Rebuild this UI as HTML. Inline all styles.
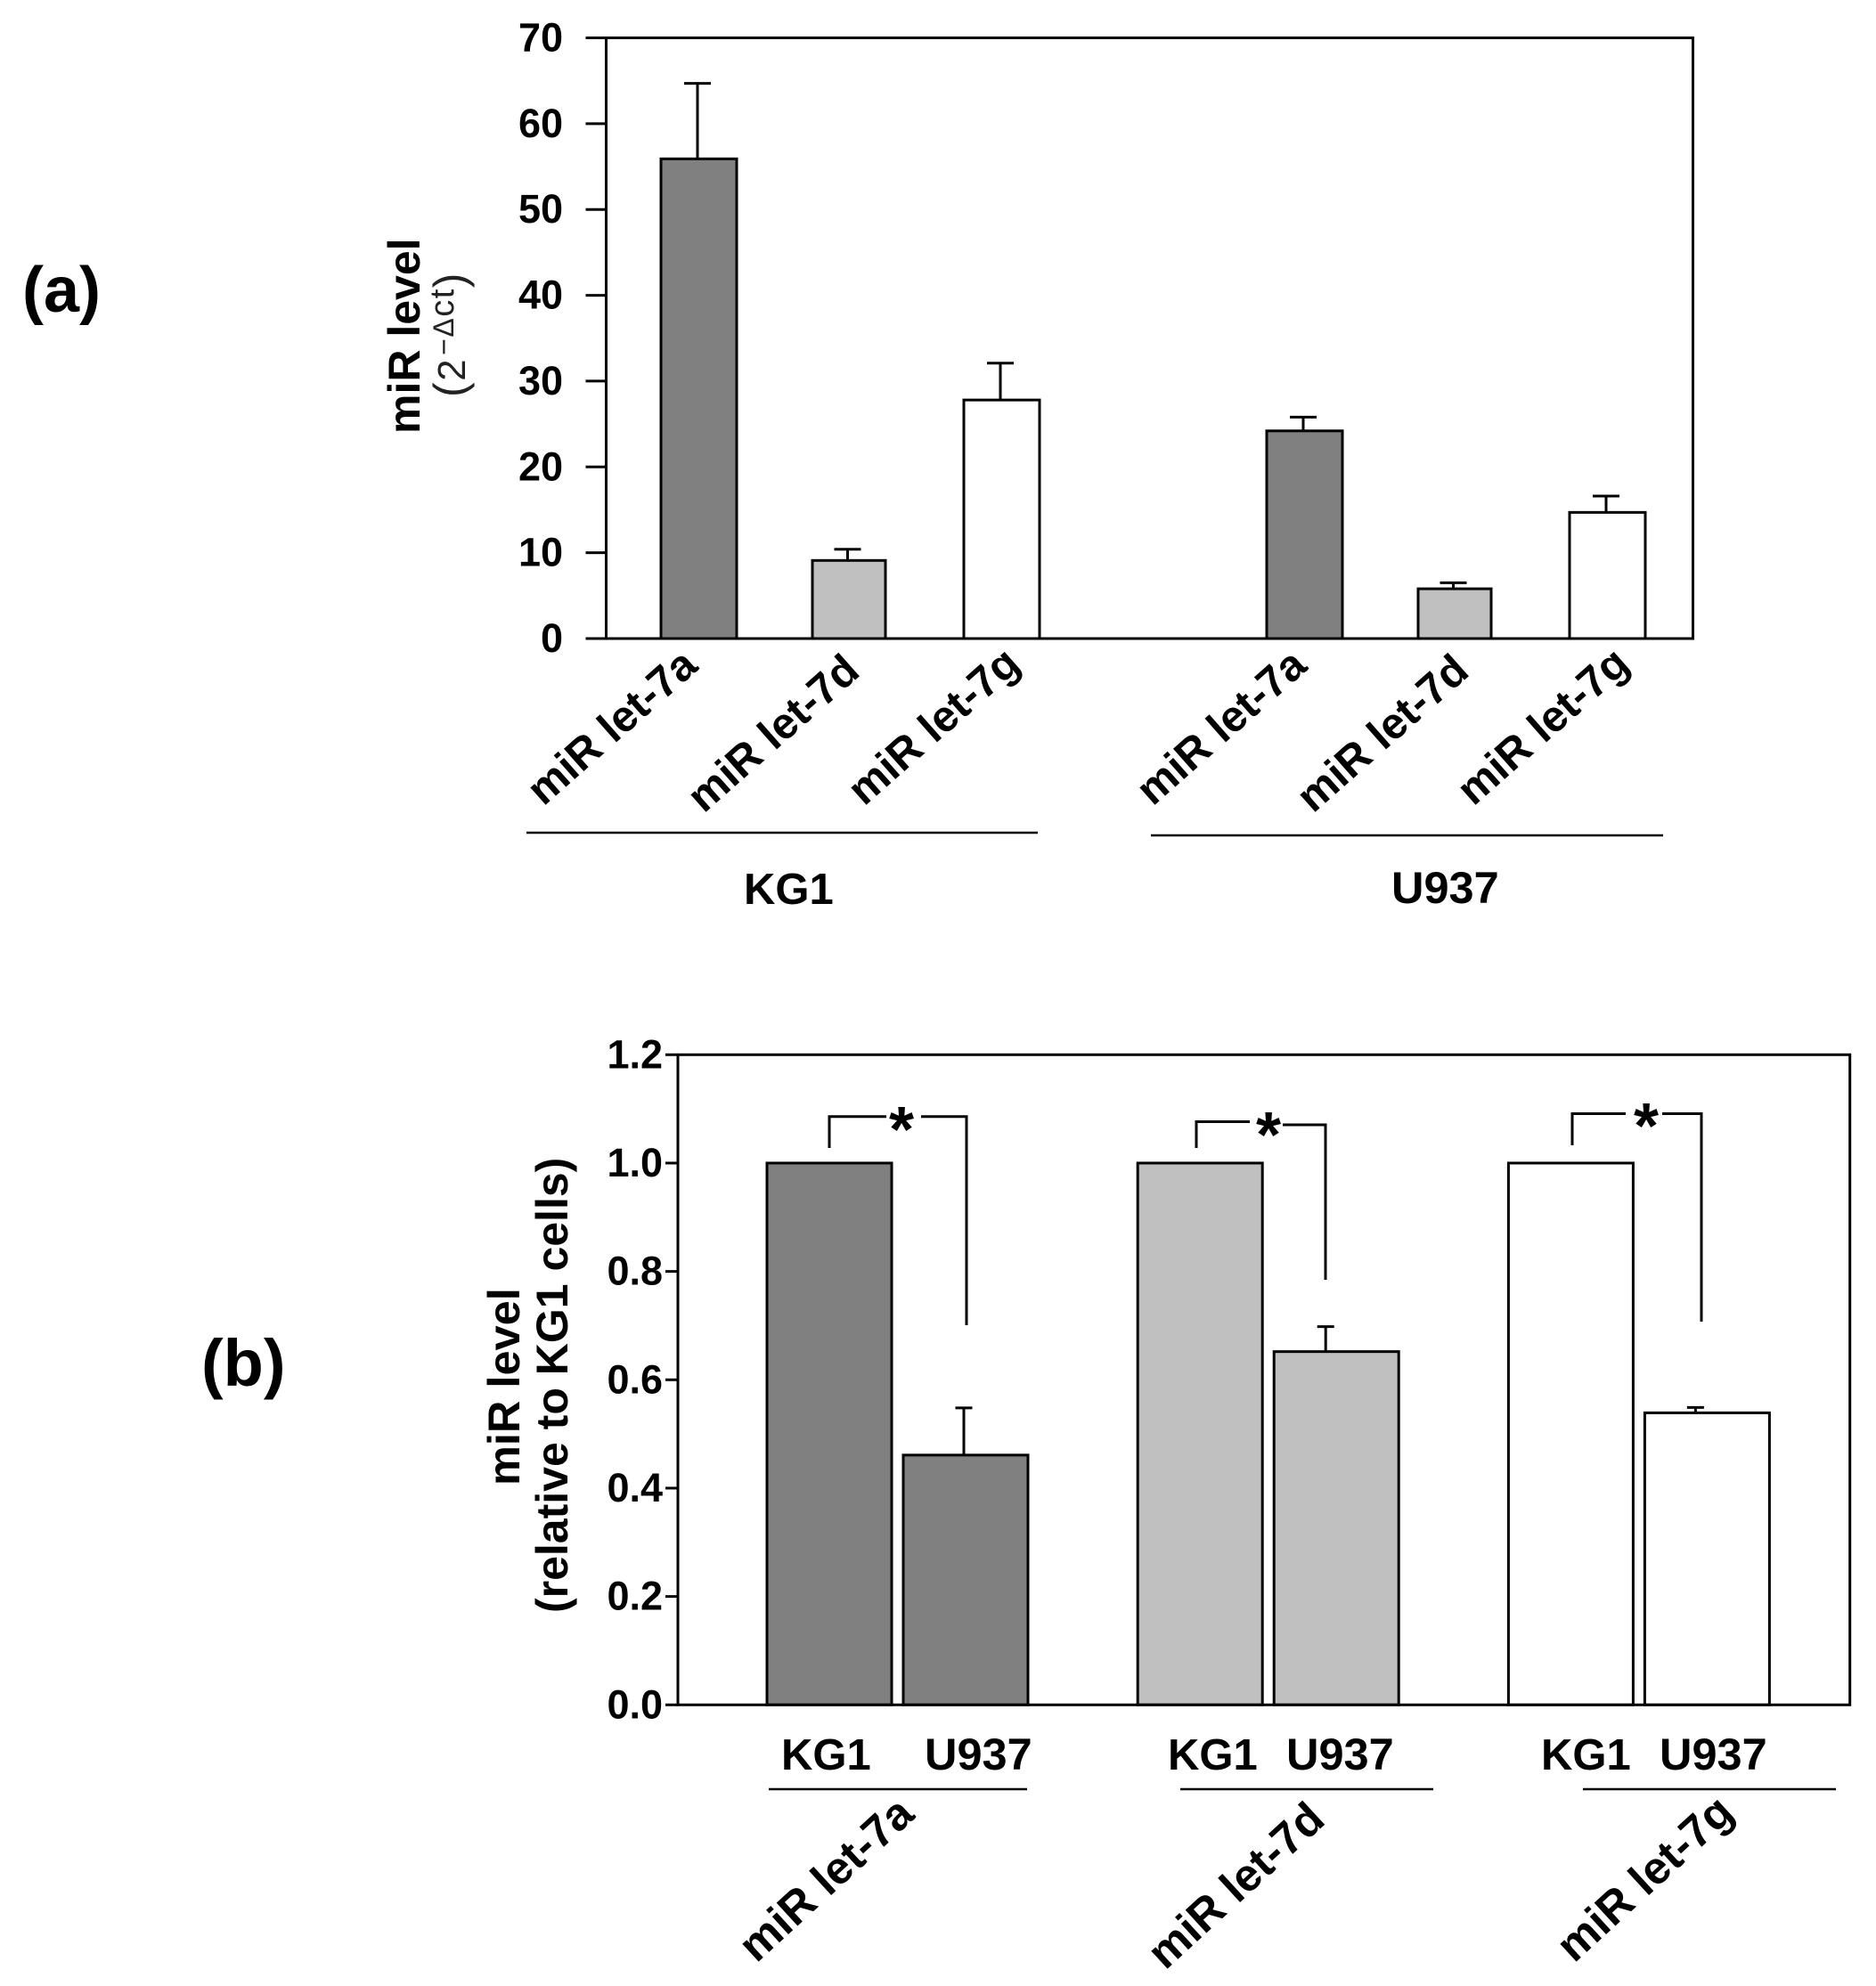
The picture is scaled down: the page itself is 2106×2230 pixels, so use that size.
<!DOCTYPE html>
<html>
<head>
<meta charset="utf-8">
<title>miR let-7 levels in KG1 and U937 cells</title>
<style>
html,body{margin:0;padding:0;background:#fff;}
svg{display:block;}
text{font-family:"Liberation Sans",sans-serif;fill:#000;}
.b{font-weight:bold;}
</style>
</head>
<body>
<svg id="fig" xmlns="http://www.w3.org/2000/svg" width="2106" height="2230" viewBox="0 0 2106 2230">
  <rect x="0" y="0" width="2106" height="2230" fill="#fff"/>

  <!-- Panel a static parts -->
  <text class="b" x="25" y="350" font-size="72">(a)</text>
  <text class="b" font-size="50" transform="translate(471,487) rotate(-90)">miR level</text>
  <text style="fill:#222;letter-spacing:1.5px" transform="translate(522,446) rotate(-90)"><tspan font-size="50">(</tspan><tspan font-size="44">2</tspan><tspan font-size="32" dy="-13" dx="3">−Δ</tspan><tspan font-size="38">ct</tspan><tspan font-size="50" dy="13">)</tspan></text>
  <line x1="591" y1="935" x2="1165" y2="935" stroke="#000" stroke-width="2.5"/>
  <line x1="1292" y1="938" x2="1867" y2="938" stroke="#000" stroke-width="2.5"/>
  <text class="b" x="835" y="1015" font-size="49">KG1</text>
  <text class="b" x="1562" y="1014" font-size="50.5">U937</text>

  <!-- Panel b static parts -->
  <text class="b" x="226" y="1556" font-size="74">(b)</text>
  <text class="b" font-size="50.5" transform="translate(583,1668) rotate(-90)">miR level</text>
  <text class="b" font-size="50" transform="translate(637,1811) rotate(-90)">(relative to KG1 cells)</text>

  <text class="b" x="877" y="1987" font-size="49">KG1</text>
  <text class="b" x="1038" y="1987" font-size="50.5">U937</text>
  <text class="b" x="1311" y="1987" font-size="49">KG1</text>
  <text class="b" x="1444" y="1987" font-size="50.5">U937</text>
  <text class="b" x="1730" y="1987" font-size="49">KG1</text>
  <text class="b" x="1863" y="1987" font-size="50.5">U937</text>
  <line x1="863" y1="2009" x2="1153" y2="2009" stroke="#000" stroke-width="2.5"/>
  <line x1="1325" y1="2009" x2="1609" y2="2009" stroke="#000" stroke-width="2.5"/>
  <line x1="1777" y1="2009" x2="2061" y2="2009" stroke="#000" stroke-width="2.5"/>

  <g id="panelA"></g>
  <g id="panelB"></g>

  <!-- Significance brackets -->
  <g fill="none" stroke="#000" stroke-width="3">
    <polyline points="931,1289 931,1253.7 995,1253.7"/>
    <polyline points="1034,1253.7 1085,1253.7 1085,1488"/>
  </g>
  <text class="b" x="1012" y="1293" font-size="72" text-anchor="middle">*</text>
  <g fill="none" stroke="#000" stroke-width="3">
    <polyline points="1343,1289 1343,1259.5 1403,1259.5"/>
    <polyline points="1440,1263 1488,1263 1488,1437"/>
  </g>
  <text class="b" x="1424" y="1299" font-size="72" text-anchor="middle">*</text>
  <g fill="none" stroke="#000" stroke-width="3">
    <polyline points="1765,1286 1765,1250.5 1825,1250.5"/>
    <polyline points="1866,1250.5 1910,1250.5 1910,1484"/>
  </g>
  <text class="b" x="1848" y="1289" font-size="72" text-anchor="middle">*</text>
</svg>

<script>
// Panel (a) data
const aGroups = ['KG1', 'U937'];
const aCategories = ['miR let-7a', 'miR let-7d', 'miR let-7g'];
const aKG1Values = [55.9, 9.1, 27.8];
const aKG1ErrorTops = [64.7, 10.4, 32.1];
const aU937Values = [24.2, 5.8, 14.7];
const aU937ErrorTops = [25.8, 6.5, 16.6];
const aTickValues = [0, 10, 20, 30, 40, 50, 60, 70];
const aTickLabels = ['0', '10', '20', '30', '40', '50', '60', '70'];

// Panel (b) data
const bCategories = ['miR let-7a', 'miR let-7d', 'miR let-7g'];
const bCells = ['KG1', 'U937'];
const bKG1Values = [1.0, 1.0, 1.0];
const bU937Values = [0.461, 0.652, 0.539];
const bU937ErrorTops = [0.548, 0.698, 0.549];
const bTickValues = [0, 0.2, 0.4, 0.6, 0.8, 1.0, 1.2];
const bTickLabels = ['0.0', '0.2', '0.4', '0.6', '0.8', '1.0', '1.2'];

const NS = 'http://www.w3.org/2000/svg';
const FILLS = ['#808080', '#c0c0c0', '#ffffff'];

function mk(tag, parent, attrs) {
  const n = document.createElementNS(NS, tag);
  for (const k in attrs) n.setAttribute(k, attrs[k]);
  parent.appendChild(n);
  return n;
}

// ---------- Panel A ----------
const A = { left: 680.5, right: 1900.5, top: 42.5, bottom: 717, max: 70 };
function ayScale(v) { return A.bottom - (v / A.max) * (A.bottom - A.top); }
function axCenter(g, i) { return 784.5 + (g * 4 + i) * 170 + (i === 1 ? -1.5 : 0); }
const aWidths = [85, 82, 85];

const gA = document.getElementById('panelA');

aGroups.forEach(function (group, g) {
  const vals = g === 0 ? aKG1Values : aU937Values;
  const errs = g === 0 ? aKG1ErrorTops : aU937ErrorTops;
  aCategories.forEach(function (cat, i) {
    const c = axCenter(g, i);
    const w = aWidths[i];
    const stemX = c - 1.5;
    const stem = mk('line', gA, { x1: stemX, x2: stemX, y1: ayScale(vals[i]), y2: ayScale(errs[i]), stroke: '#000', 'stroke-width': 3 });
    
    
    const cap = mk('line', gA, { x1: stemX - 15, x2: stemX + 15, y1: ayScale(errs[i]), y2: ayScale(errs[i]), stroke: '#000', 'stroke-width': 3 });
    
    
    const bar = mk('rect', gA, { x: c - w / 2, y: ayScale(vals[i]), width: w, height: A.bottom - ayScale(vals[i]), fill: FILLS[i], stroke: '#000', 'stroke-width': 3 });
    
    
    const lx = 610 + g * 684 + i * 180;
    const ly = 906 + (i === 1 ? 8 : 0);
    const lab = mk('text', gA, { class: 'b', 'font-size': 49, transform: 'translate(' + lx + ',' + ly + ') rotate(-41.5)' });
    lab.textContent = cat;
    
    
  });
});

const aFrame = mk('rect', gA, { x: A.left, y: A.top, width: A.right - A.left, height: A.bottom - A.top, fill: 'none', stroke: '#000', 'stroke-width': 3 });



aTickValues.forEach(function (v, i) {
  const y = ayScale(v);
  const t = mk('line', gA, { x1: A.left - 23, x2: A.left, y1: y, y2: y, stroke: '#000', 'stroke-width': 3 });
  
  
  const l = mk('text', gA, { class: 'b', 'font-size': 45, x: 632, y: y + 15, 'text-anchor': 'end' });
  l.textContent = aTickLabels[i];
  
  
});

// ---------- Panel B ----------
const B = { left: 761, right: 2076.7, top: 1184.3, bottom: 1914.3, max: 1.2 };
function byScale(v) { return B.bottom - (v / B.max) * (B.bottom - B.top); }
function bxCenter(g, s) { return 931 + g * 416.2 + s * 153; }
const bStemShift = [-2, -12, -13];
const BW = 140;

const gB = document.getElementById('panelB');

bCategories.forEach(function (cat, g) {
  bCells.forEach(function (cell, s) {
    const v = s === 0 ? bKG1Values[g] : bU937Values[g];
    const c = bxCenter(g, s);
    if (s === 1) {
      const sx = c + bStemShift[g];
      const stem = mk('line', gB, { x1: sx, x2: sx, y1: byScale(v), y2: byScale(bU937ErrorTops[g]), stroke: '#000', 'stroke-width': 3 });
      
      
      const cap = mk('line', gB, { x1: sx - 9.5, x2: sx + 9.5, y1: byScale(bU937ErrorTops[g]), y2: byScale(bU937ErrorTops[g]), stroke: '#000', 'stroke-width': 3 });
      
      
    }
    const bar = mk('rect', gB, { x: c - BW / 2, y: byScale(v), width: BW, height: B.bottom - byScale(v), fill: FILLS[g], stroke: '#000', 'stroke-width': 3 });
    
    
  });
  const lx = 849 + g * 459;
  const ly = 2205 + (g === 1 ? 8 : 0);
  const lab = mk('text', gB, { class: 'b', 'font-size': 51, transform: 'translate(' + lx + ',' + ly + ') rotate(-42.5)' });
  lab.textContent = cat;
  
  
});

const bFrame = mk('rect', gB, { x: B.left, y: B.top, width: B.right - B.left, height: B.bottom - B.top, fill: 'none', stroke: '#000', 'stroke-width': 3 });



bTickValues.forEach(function (v, i) {
  const y = byScale(v);
  const t = mk('line', gB, { x1: B.left - 14, x2: B.left, y1: y, y2: y, stroke: '#000', 'stroke-width': 3 });
  
  
  const l = mk('text', gB, { class: 'b', 'font-size': 45, x: 744, y: y + 15, 'text-anchor': 'end' });
  l.textContent = bTickLabels[i];
  
  
});
</script>
</body>
</html>
